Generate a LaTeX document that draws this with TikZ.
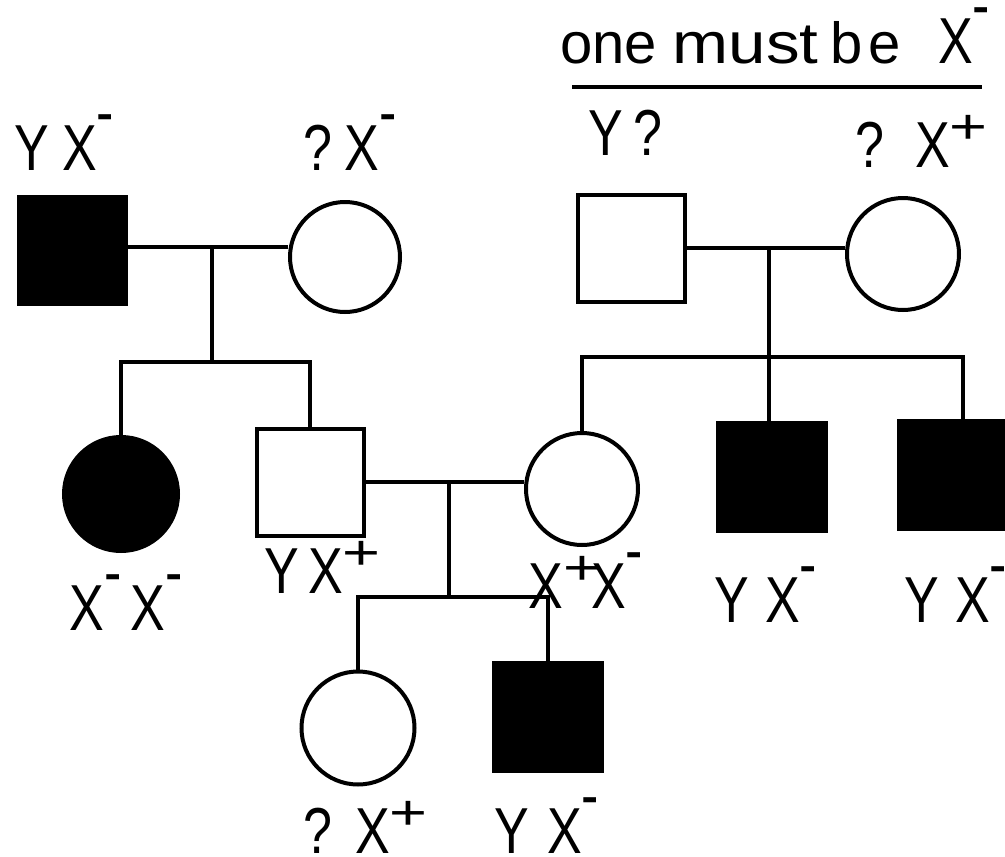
\documentclass[tikz,border=0pt]{standalone}
\usepackage{fontspec}
\setmainfont{Liberation Sans}
\usepackage{graphicx}
\newcommand\mi{\raisebox{0.54em}{-}}
\newcommand\pl{\raisebox{0.36em}{\scalebox{1.25}[0.75]{+}}}
\begin{document}
\begin{tikzpicture}[x=1pt,y=-1pt,line width=4pt,
  sq/.style={draw,rectangle,inner sep=0pt,minimum width=#1,minimum height=#1},
  sq/.default=107pt,
  ci/.style={draw,circle,inner sep=0pt,minimum size=#1},
  ci/.default=112pt,
  aff/.style={fill=black},
  gen/.style={inner sep=0pt,anchor=base west,xscale=0.8,font=\fontsize{65}{65}\selectfont},
  note/.style={inner sep=0pt,anchor=base west,font=\fontsize{58}{58}\selectfont}]
\useasboundingbox (0,0) rectangle (1005,857);
% generation I
\node[sq,aff] (A) at (72.5,250.5) {};
\node[ci=110pt] (B) at (345,257) {};
\node[sq] (H) at (631,248) {};
\node[ci] (I) at (903,254) {};
% generation II
\node[ci=114pt,aff] (C) at (121,494) {};
\node[sq] (D) at (310,482.5) {};
\node[ci] (E) at (582,489) {};
\node[sq=108pt,aff] (J) at (772,477) {};
\node[sq=108pt,aff] (K) at (952.5,474.5) {};
% generation III
\node[ci=113pt] (F) at (358,728) {};
\node[sq=108pt,aff] (G) at (548,716.5) {};
% junctions
\coordinate (m1) at (212,247);
\coordinate (s1) at (212,362);
\coordinate (m2) at (449,482);
\coordinate (s2) at (449,597);
\coordinate (m3) at (769,248);
\coordinate (s3) at (769,357);
\coordinate (u1) at (572,87);
\coordinate (u2) at (982,87);
% connectors
\draw (A.east |- m1) -- (B.west |- m1);
\draw (m1) -- (s1);
\draw (C.north) |- (s1) -| (D.north);
\draw (D.east |- m2) -- (E.west |- m2);
\draw (m2) -- (s2);
\draw (F.north) |- (s2) -| (G.north);
\draw (H.east |- m3) -- (I.west |- m3);
\draw (m3) -- (s3);
\draw (E.north) |- (s3) -| ([xshift=10.5pt]K.north);
\draw (s3) -- (s3 |- J.north);
\draw (u1) -- (u2);
% labels
\node[gen] (lA) at (13,170) {Y\hspace{16pt}X\mi};
\node[gen] (lB) at (301.5,170) {?\hspace{16pt}X\mi};
\node[gen] (lC) at (68,630) {X\mi\hspace{11pt}X\mi};
\node[gen] (lD) at (263,593) {Y\hspace{11pt}X\pl};
\node[gen] (lE) at (527,608) {X\pl\hspace{-12.5pt}X\mi};
\node[gen] (lJ) at (713,622) {Y\hspace{20pt}X\mi};
\node[gen] (lK) at (903,622) {Y\hspace{20pt}X\mi};
\node[gen] (lF) at (301.5,853) {?\hspace{29pt}X\pl};
\node[gen] (lG) at (493,853) {Y\hspace{22.5pt}X\mi};
\node[gen] (lH) at (587,155) {Y\hspace{13pt}?};
\node[gen] (lI) at (853.5,167) {?\hspace{39pt}X\pl};
\node[note] (t) at (558,63) {one \scalebox{1.16}[1]{must}\hspace{12pt}b\hspace{6pt}e\hspace{37pt}\scalebox{0.8}[1]{\fontsize{65}{65}\selectfont X\mi}};
\end{tikzpicture}
\end{document}
